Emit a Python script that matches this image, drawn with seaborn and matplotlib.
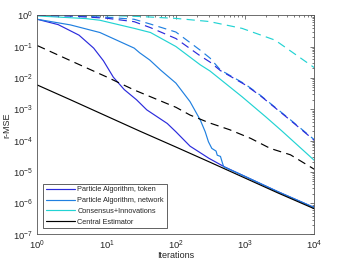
import numpy as np
import pandas as pd
import seaborn as sns
import matplotlib
matplotlib.use("Agg")
import matplotlib.pyplot as plt
from matplotlib.ticker import FixedLocator, LogFormatterSciNotation, NullFormatter

# ---- data (iterations vs r-MSE) ----
central_x = [1, 3, 10, 30, 100, 300, 1000, 3000, 10000]
central_y = [5.9e-3, 2.0e-3, 6.0e-4, 2.0e-4, 6.2e-5, 2.1e-5, 6.3e-6, 2.1e-6, 6.6e-7]

central_d_x = [1, 3, 10, 25, 100, 160, 300, 600, 1200, 2300, 4500, 10000]
central_d_y = [0.107, 0.0355, 0.0107, 4.1e-3, 1.15e-3, 6.5e-4, 3.7e-4, 2.2e-4,
               1.17e-4, 5.6e-5, 3.5e-5, 1.2e-5]

token_x = [1, 2, 4, 6.5, 9, 12.5, 18, 27, 38, 75, 100, 160, 300, 500, 1000, 3000, 10000]
token_y = [0.74, 0.50, 0.23, 0.089, 0.035, 0.0105, 4.2e-3, 2.0e-3, 9.5e-4, 3.5e-4,
           1.9e-4, 6.6e-5, 2.7e-5, 1.45e-5, 7.1e-6, 2.3e-6, 7.2e-7]

network_x = [1, 3, 8, 25, 30, 42, 60, 100, 160, 225, 265, 295, 330, 380, 395,
             440, 470, 490, 1000, 3000, 10000]
network_y = [0.74, 0.49, 0.28, 0.089, 0.063, 0.037, 0.0178, 6.8e-3, 1.74e-3, 4.5e-4,
             1.9e-4, 9.1e-5, 5.6e-5, 4.6e-5, 3.4e-5, 3.1e-5, 1.9e-5, 1.45e-5,
             7.1e-6, 2.3e-6, 7.2e-7]

ci_x = [1, 5, 8, 25, 43, 100, 225, 310, 900, 2000, 3400, 10000]
ci_y = [0.95, 0.78, 0.69, 0.38, 0.28, 0.1, 0.026, 0.0166, 2.5e-3, 5.6e-4, 2.0e-4, 2.3e-5]

ci_d_x = [1, 10, 30, 100, 300, 900, 2700, 10000]
ci_d_y = [1.0, 0.98, 0.91, 0.79, 0.63, 0.38, 0.16, 0.021]

blue_d_x = [1, 3, 10, 25, 43, 100, 220, 310, 440, 1000, 1650, 4200, 10000]
network_d_y = [1.0, 0.96, 0.86, 0.74, 0.52, 0.29, 0.079, 0.043, 0.0178, 6.3e-3,
               2.8e-3, 5.2e-4, 1.05e-4]
token_d_y = [1.0, 0.94, 0.80, 0.62, 0.40, 0.18, 0.052, 0.032, 0.017, 6.0e-3,
             2.7e-3, 5.0e-4, 1.0e-4]

labels = ["Particle Algorithm, token", "Particle Algorithm, network",
          "Consensus+Innovations", "Central Estimator"]

x_major = [1, 10, 100, 1000, 10000]
y_major = [1e-7, 1e-6, 1e-5, 1e-4, 1e-3, 1e-2, 1e-1, 1]

c_token = "#2b2bdc"
c_network = "#2080e0"
c_ci = "#22d3d3"
c_central = "#000000"

sns.set_theme(style="white")
plt.rcParams["font.family"] = ["Liberation Sans", "DejaVu Sans"]
plt.rcParams["mathtext.fontset"] = "custom"
plt.rcParams["mathtext.rm"] = "Liberation Sans"

fig = plt.figure(figsize=(3.49, 2.62), dpi=100)
ax = fig.add_axes([0.107, 0.105, 0.794, 0.837])

lw = 0.85
dash = (0, (7, 4.5))

solids = [(token_x, token_y, c_token), (network_x, network_y, c_network),
          (ci_x, ci_y, c_ci), (central_x, central_y, c_central)]
for (xs, ys, col), lab in zip(solids, labels):
    sns.lineplot(x=xs, y=ys, ax=ax, color=col, lw=lw, label=lab,
                 estimator=None, sort=False)

dashed = [(central_d_x, central_d_y, c_central), (ci_d_x, ci_d_y, c_ci),
          (blue_d_x, network_d_y, c_network), (blue_d_x, token_d_y, c_token)]
for xs, ys, col in dashed:
    sns.lineplot(x=xs, y=ys, ax=ax, color=col, lw=lw, linestyle=dash,
                 estimator=None, sort=False, legend=False)

ax.set_xscale("log")
ax.set_yscale("log")
ax.set_xlim(1, 1e4)
ax.set_ylim(1e-7, 1)

# fixed ticks so nothing lands outside the frame
x_minor = [m * d for d in x_major[:-1] for m in range(2, 10)]
y_minor = [m * d for d in y_major[:-1] for m in range(2, 10)]
ax.xaxis.set_major_locator(FixedLocator(x_major))
ax.yaxis.set_major_locator(FixedLocator(y_major))
ax.xaxis.set_minor_locator(FixedLocator(x_minor))
ax.yaxis.set_minor_locator(FixedLocator(y_minor))
ax.xaxis.set_major_formatter(LogFormatterSciNotation())
ax.yaxis.set_major_formatter(LogFormatterSciNotation())
ax.xaxis.set_minor_formatter(NullFormatter())
ax.yaxis.set_minor_formatter(NullFormatter())

ax.tick_params(which="both", direction="in", top=True, right=True,
               colors="#444444", labelcolor="#262626", width=0.5)
ax.tick_params(which="major", length=3, labelsize=6.8, pad=3)
ax.tick_params(which="minor", length=1.5)
for s in ax.spines.values():
    s.set_color("#555555")
    s.set_linewidth(0.6)

ax.set_xlabel("Iterations", fontsize=6.5, color="#262626", labelpad=-0.5)
ax.set_ylabel("r-MSE", fontsize=6.5, color="#262626", labelpad=1)

leg = ax.legend(loc="lower left", bbox_to_anchor=(0.022, 0.028), borderaxespad=0,
                fontsize=5.3, handlelength=4.0, handletextpad=0.25,
                labelspacing=0.5, borderpad=0.35, fancybox=False,
                framealpha=1, edgecolor="#222222")
leg.get_frame().set_linewidth(0.5)

fig.savefig("out.png", dpi=100)
